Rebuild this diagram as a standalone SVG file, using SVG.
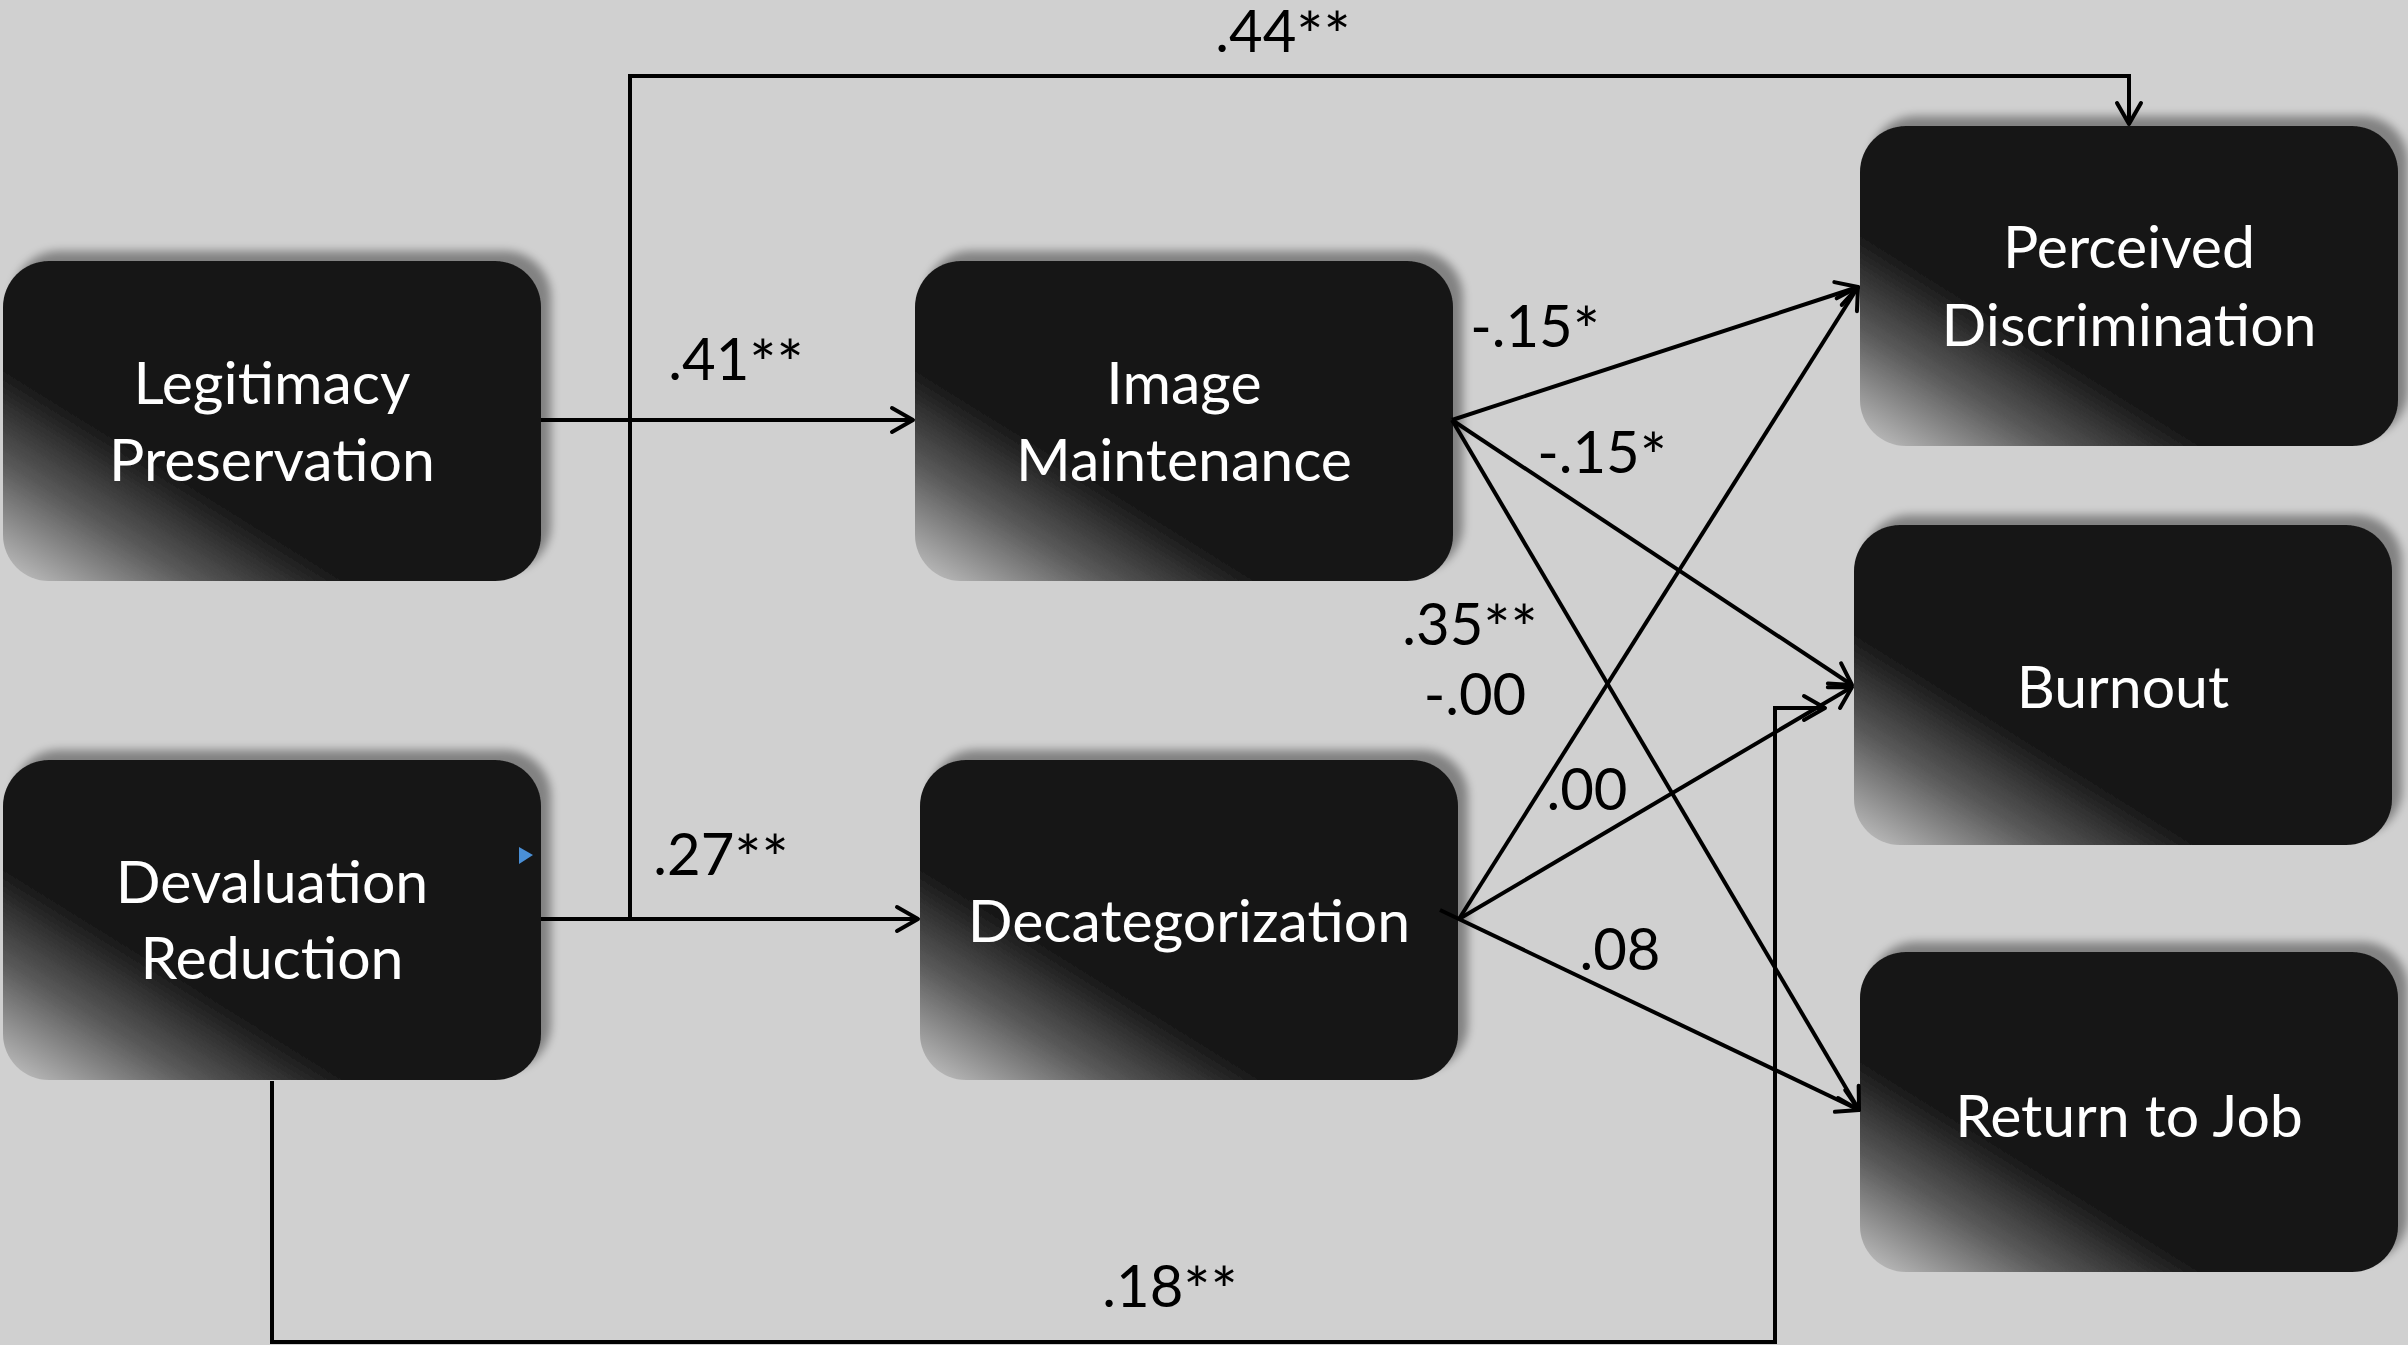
<svg xmlns="http://www.w3.org/2000/svg" width="2408" height="1345" viewBox="0 0 2408 1345">
<style>
  .box { fill: url(#boxGrad); filter: url(#shadow); }
  .nt { font-family: Lato, "Open Sans", sans-serif; font-size: 59px; fill: #ffffff; text-anchor: middle; }
  .lbl { font-family: Lato, "Open Sans", sans-serif; font-size: 58px; fill: #000000; text-anchor: middle; }
  .ast { font-size: 64px; }
  .edge { fill: none; stroke: #000000; stroke-width: 4; }
  .arr { marker-end: url(#arrow); }
</style>
<defs>
  <linearGradient id="boxGrad" gradientUnits="userSpaceOnUse" x1="0" y1="320" x2="96" y2="165">
    <stop offset="0" stop-color="#c6c6c6"/>
    <stop offset="0.55" stop-color="#5a5a5a"/>
    <stop offset="1" stop-color="#161616"/>
  </linearGradient>
  <filter id="shadow" x="-10%" y="-15%" width="125%" height="130%">
    <feGaussianBlur in="SourceAlpha" stdDeviation="5" result="b"/>
    <feOffset in="b" dx="10" dy="-10" result="o"/>
    <feComponentTransfer in="o" result="s"><feFuncA type="linear" slope="0.38"/></feComponentTransfer>
    <feMerge><feMergeNode in="s"/><feMergeNode in="SourceGraphic"/></feMerge>
  </filter>
  <marker id="arrow" markerUnits="userSpaceOnUse" viewBox="-26 -15 30 30" markerWidth="30" markerHeight="30" refX="0" refY="0" orient="auto">
    <path d="M-21,-12 L0,0 L-21,12" fill="none" stroke="#000" stroke-width="4" stroke-linejoin="round" stroke-linecap="round"/>
  </marker>
</defs>
<rect x="0" y="0" width="2408" height="1345" fill="#d0d0d0"/>

<g id="node-legitimacy" transform="translate(3,261)">
  <rect class="box" x="0" y="0" width="538" height="320" rx="46" ry="46"/>
  <text class="nt" x="269" y="143">Legitimacy</text>
  <text class="nt" x="269" y="220">Preservation</text>
</g>
<g id="node-devaluation" transform="translate(3,760)">
  <rect class="box" x="0" y="0" width="538" height="320" rx="46" ry="46"/>
  <text class="nt" x="269" y="143">Devaluation</text>
  <text class="nt" x="269" y="219">Reduction</text>
  <polygon points="516,87 530,95 516,104" fill="#4a8fd6"/>
</g>
<g id="node-image" transform="translate(915,261)">
  <rect class="box" x="0" y="0" width="538" height="320" rx="46" ry="46"/>
  <text class="nt" x="269" y="143">Image</text>
  <text class="nt" x="269" y="220">Maintenance</text>
</g>
<g id="node-decategorization" transform="translate(920,760)">
  <rect class="box" x="0" y="0" width="538" height="320" rx="46" ry="46"/>
  <text class="nt" x="269" y="182">Decategorization</text>
</g>
<g id="node-perceived" transform="translate(1860,126)">
  <rect class="box" x="0" y="0" width="538" height="320" rx="46" ry="46"/>
  <text class="nt" x="269" y="142">Perceived</text>
  <text class="nt" x="269" y="220">Discrimination</text>
</g>
<g id="node-burnout" transform="translate(1854,525)">
  <rect class="box" x="0" y="0" width="538" height="320" rx="46" ry="46"/>
  <text class="nt" x="269" y="183">Burnout</text>
</g>
<g id="node-return" transform="translate(1860,952)">
  <rect class="box" x="0" y="0" width="538" height="320" rx="46" ry="46"/>
  <text class="nt" x="269" y="185">Return to Job</text>
</g>

<g id="connectors">
  <path class="edge arr" d="M541,420 H913"/>
  <path class="edge arr" d="M541,919 H918"/>
  <path class="edge arr" d="M630,919 V76 H2129 V124"/>
  <path class="edge arr" d="M272,1081 V1342 H1775 V708 H1825"/>
  <path class="edge arr" d="M1452,420 L1858,287"/>
  <path class="edge arr" d="M1452,420 L1852,685"/>
  <path class="edge arr" d="M1452,420 L1859,1110"/>
  <path class="edge arr" d="M1459,919 L1858,287"/>
  <path class="edge arr" d="M1459,919 L1852,687"/>
  <path class="edge arr" d="M1440,910 L1859,1110"/>
</g>

<g id="labels">
  <text class="lbl" x="1283" y="52">.44<tspan class="ast" dy="7">**</tspan></text>
  <text class="lbl" x="736" y="380">.41<tspan class="ast" dy="7">**</tspan></text>
  <text class="lbl" x="721" y="875">.27<tspan class="ast" dy="7">**</tspan></text>
  <text class="lbl" x="1535" y="347">-.15<tspan class="ast" dy="7">*</tspan></text>
  <text class="lbl" x="1602" y="473">-.15<tspan class="ast" dy="7">*</tspan></text>
  <text class="lbl" x="1470" y="645">.35<tspan class="ast" dy="7">**</tspan></text>
  <text class="lbl" x="1475" y="715">-.00</text>
  <text class="lbl" x="1587" y="810">.00</text>
  <text class="lbl" x="1620" y="970">.08</text>
  <text class="lbl" x="1170" y="1307">.18<tspan class="ast" dy="7">**</tspan></text>
</g>
</svg>
